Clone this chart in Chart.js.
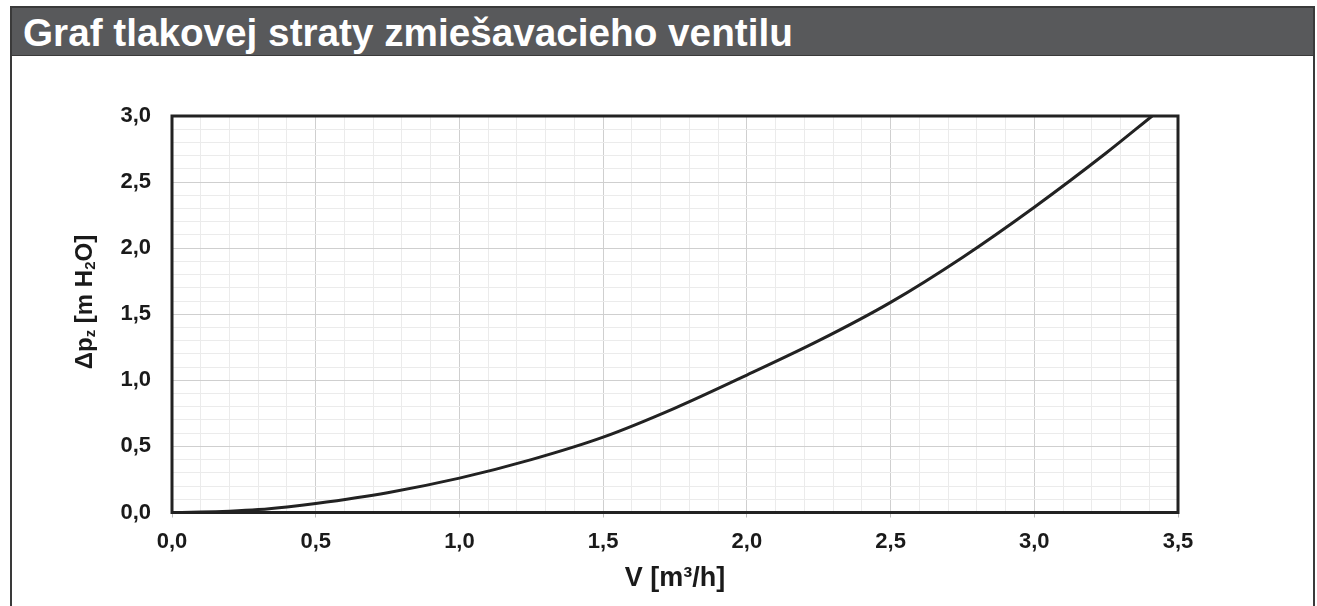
<!DOCTYPE html>
<html>
<head>
<meta charset="utf-8">
<script src="https://cdn.jsdelivr.net/npm/chart.js@4/dist/chart.umd.min.js"></script>
<style>
  html, body { margin: 0; padding: 0; background: #fff; }
  body { width: 1317px; height: 606px; overflow: hidden; position: relative; font-family: "Liberation Sans", Arial, sans-serif; }
  .frame { position: absolute; left: 10px; top: 6px; width: 1301px; height: 700px; border: 2px solid #3a3a3a; box-sizing: content-box; }
  .head { height: 47px; background: #58595b; color: #fff; font-weight: bold; font-size: 38.7px; line-height: 49px; padding-left: 11px; border-bottom: 1px solid #3a3a3a; white-space: nowrap; }
  .plot { position: absolute; left: 14px; top: 57px; width: 1297px; height: 549px; }
</style>
</head>
<body>
<div class="frame"><div class="head">Graf tlakovej straty zmiešavacieho ventilu</div></div>
<div class="plot"><canvas id="lossChart"></canvas></div>
<script>
// flow values [m3/h] and pressure loss [m H2O]
const flowV = [0, 0.1, 0.2, 0.3, 0.4, 0.5, 0.75, 1.0, 1.25, 1.5, 1.75, 2.0, 2.25, 2.5, 2.75, 3.0, 3.25, 3.41];
const pressureLoss = [0, 0.003, 0.01, 0.022, 0.042, 0.068, 0.15, 0.26, 0.40, 0.57, 0.79, 1.04, 1.30, 1.59, 1.93, 2.31, 2.72, 3.0];

const xRange = [0, 3.5];
const yRange = [0, 3.0];
const xTitle = 'V [m³/h]';

const isMajor = v => Math.round(v * 10) % 5 === 0;
const fmt = v => v.toFixed(1).replace('.', ',');

const gridColor = ctx => isMajor(ctx.tick.value) ? '#cfcfcf' : '#ebebeb';
const tickFont = { family: '"Liberation Sans", Arial, sans-serif', size: 22, weight: 'bold' };

// axis titles + thick frame around the plot
const decorPlugin = {
    id: 'decor',
    afterDraw(chart) {
        const { ctx, chartArea: a } = chart;
        ctx.save();
        ctx.strokeStyle = '#222';
        ctx.lineWidth = 3;
        ctx.strokeRect(a.left, a.top, a.right - a.left, a.bottom - a.top);

        ctx.fillStyle = '#1a1a1a';
        ctx.textAlign = 'center';
        ctx.textBaseline = 'middle';
        ctx.font = 'bold 27px "Liberation Sans", Arial, sans-serif';
        ctx.fillText(xTitle, (a.left + a.right) / 2, 522);

        // y title with subscripts
        const parts = [['Δp', false], ['z', true], [' [m H', false], ['2', true], ['O]', false]];
        const big = 'bold 24px "Liberation Sans", Arial, sans-serif';
        const small = 'bold 15px "Liberation Sans", Arial, sans-serif';
        let total = 0;
        parts.forEach(p => { ctx.font = p[1] ? small : big; total += ctx.measureText(p[0]).width; });
        ctx.translate(71, 245);
        ctx.rotate(-Math.PI / 2);
        ctx.textAlign = 'left';
        let x = -total / 2;
        parts.forEach(p => {
            ctx.font = p[1] ? small : big;
            ctx.fillText(p[0], x, p[1] ? 6 : 0);
            x += ctx.measureText(p[0]).width;
        });
        ctx.restore();
    }
};

const canvas = document.getElementById('lossChart');
new Chart(canvas.getContext('2d'), {
    type: 'line',
    data: {
        datasets: [{
            data: flowV.map((v, i) => ({ x: v, y: pressureLoss[i] })),
            borderColor: '#222',
            borderWidth: 3,
            pointRadius: 0,
            cubicInterpolationMode: 'monotone',
            fill: false
        }]
    },
    options: {
        responsive: true,
        maintainAspectRatio: false,
        animation: false,
        layout: { padding: { top: 59, right: 133, left: 0, bottom: 0 } },
        plugins: { legend: { display: false }, tooltip: { enabled: false } },
        scales: {
            x: {
                type: 'linear',
                min: xRange[0],
                max: xRange[1],
                afterFit: s => { s.height = 93.5; },
                border: { display: false },
                grid: {
                    color: gridColor,
                    tickLength: 5,
                    tickColor: ctx => isMajor(ctx.tick.value) ? '#bbb' : 'rgba(0,0,0,0)'
                },
                ticks: {
                    stepSize: 0.1,
                    autoSkip: false,
                    maxRotation: 0,
                    padding: 11,
                    color: '#1a1a1a',
                    font: tickFont,
                    callback: v => isMajor(v) ? fmt(v) : ''
                }
            },
            y: {
                type: 'linear',
                min: yRange[0],
                max: yRange[1],
                afterFit: s => { s.width = 158; },
                border: { display: false },
                grid: { color: gridColor, drawTicks: false },
                ticks: {
                    stepSize: 0.1,
                    autoSkip: false,
                    padding: 21,
                    color: '#1a1a1a',
                    font: tickFont,
                    callback: v => isMajor(v) ? fmt(v) : ''
                }
            }
        }
    },
    plugins: [decorPlugin]
});
</script>
</body>
</html>
